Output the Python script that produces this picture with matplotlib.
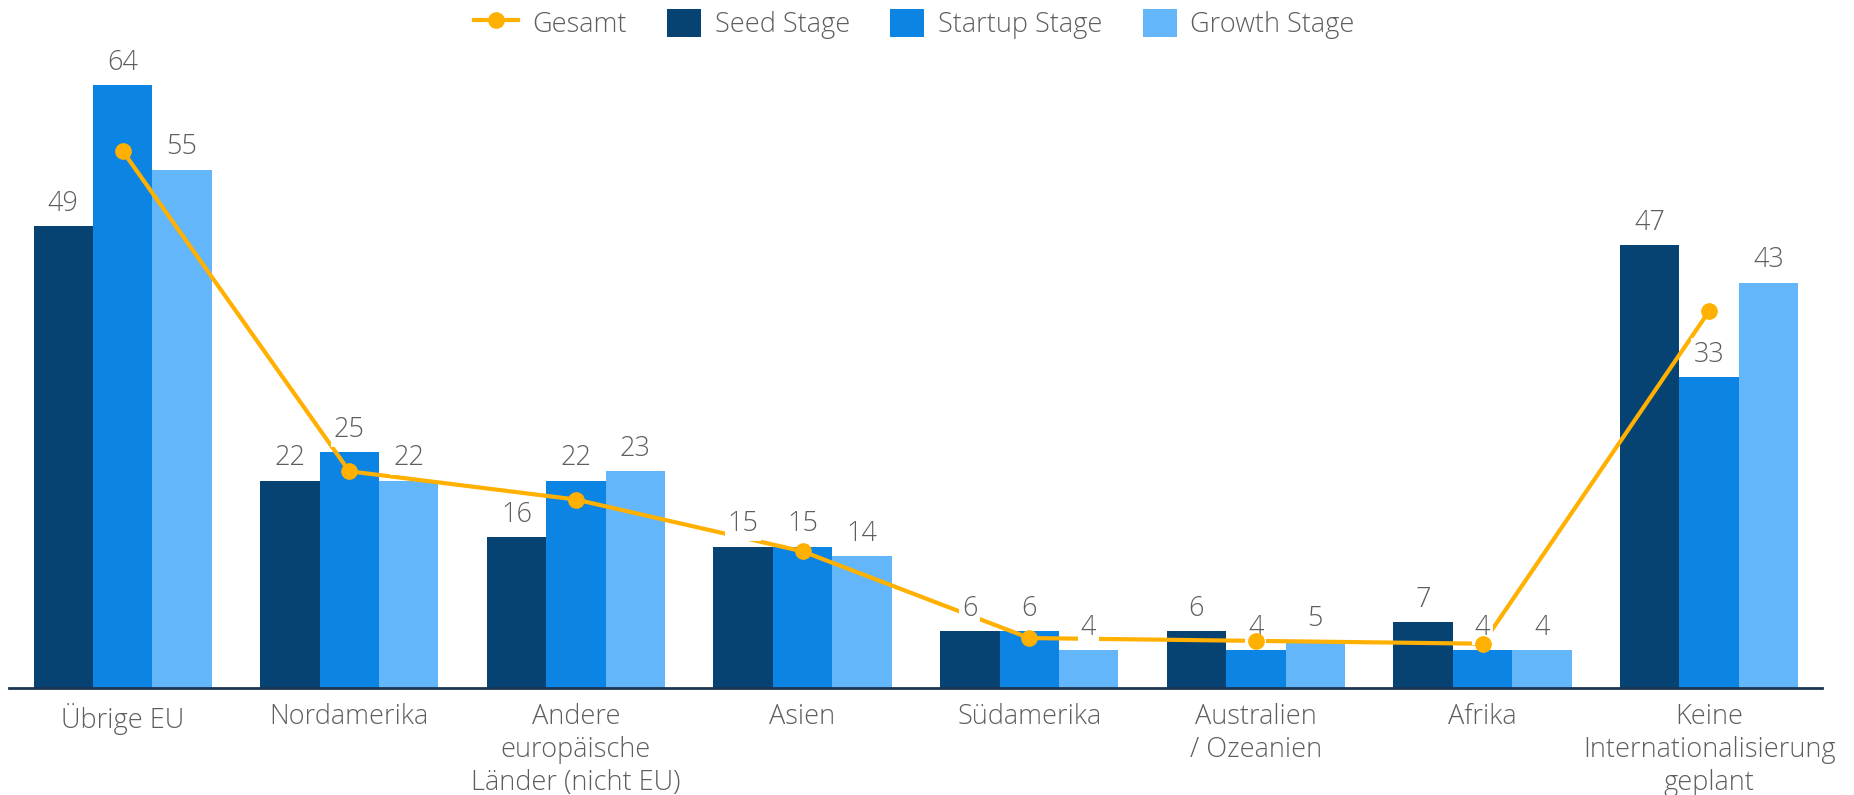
import numpy as np
import matplotlib
matplotlib.use('Agg')
import matplotlib.pyplot as plt
from matplotlib.lines import Line2D
from matplotlib.patches import Patch
from matplotlib.legend_handler import HandlerLine2D

# ─── Daten ────────────────────────────────────────────────────────────────────
REGIONEN = ["Übrige EU", "Nordamerika", "Andere\neuropäische\nLänder (nicht EU)",
            "Asien", "Südamerika", "Australien\n/ Ozeanien", "Afrika",
            "Keine\nInternationalisierung\ngeplant"]
SEED    = [49, 22, 16, 15, 6, 6, 7, 47]
STARTUP = [64, 25, 22, 15, 6, 4, 4, 33]
GROWTH  = [55, 22, 23, 14, 4, 5, 4, 43]
GESAMT  = [57, 23, 20, 14.5, 5.3, 5.0, 4.7, 40]

SERIEN = [("Seed Stage", SEED, "#064272"),
          ("Startup Stage", STARTUP, "#0b84e3"),
          ("Growth Stage", GROWTH, "#63b6f9")]
FARBE_LINIE = "#ffb000"
GRAU = "#5e5e5e"


class LangeLinie(HandlerLine2D):
    # Linien-Symbol in der Legende etwas nach links verlängern
    def create_artists(self, legend, orig, xd, yd, w, h, fs, trans):
        return super().create_artists(legend, orig, xd + 0.3 * w, yd, w * 1.3,
                                      h, fs, trans)


plt.rcParams.update({
    "font.family": ["Open Sans", "DejaVu Sans"],
    "font.weight": "light",
})

fig = plt.figure(figsize=(18.54, 7.95), dpi=100)
ax = fig.add_axes([0.005, 0.1346, 0.978, 0.806])

x = np.arange(len(REGIONEN))
breite = 0.262

for i, (name, werte, farbe) in enumerate(SERIEN):
    pos = x + (i - 1) * breite
    ax.bar(pos, werte, width=breite, color=farbe, edgecolor="none", zorder=2)
    for xp, v in zip(pos, werte):
        ax.annotate(str(v), (xp, v), xytext=(0, 6), textcoords="offset points",
                    ha="center", va="bottom", fontsize=19.5, color=GRAU,
                    zorder=5,
                    bbox=dict(boxstyle="square,pad=0.1", fc="white", ec="none"))

# Linie unter den Beschriftungen, Punkte darüber
ax.plot(x, GESAMT, color=FARBE_LINIE, linewidth=3, zorder=4)
ax.plot(x, GESAMT, color=FARBE_LINIE, linestyle="none", marker="o",
        markersize=11, zorder=6)

# ─── Achsen ───────────────────────────────────────────────────────────────────
ax.set_xlim(-0.5, 7.5)
ax.set_ylim(0, 68)
for s in ["top", "right", "left"]:
    ax.spines[s].set_visible(False)
ax.spines["bottom"].set_color("#1c3553")
ax.spines["bottom"].set_linewidth(2)
ax.set_yticks([])
ax.set_xticks(x)
ax.set_xticklabels(REGIONEN, fontsize=19.5, color=GRAU, linespacing=1.22)
ax.tick_params(axis="x", length=0, pad=11)

# ─── Legende ──────────────────────────────────────────────────────────────────
linie = Line2D([0], [0], color=FARBE_LINIE, lw=3, marker="o", markersize=11)
handles = [linie] + [Patch(facecolor=f, edgecolor="none") for _, _, f in SERIEN]
labels = ["Gesamt"] + [n for n, _, _ in SERIEN]
fig.legend(handles, labels, loc="center", bbox_to_anchor=(0.496, 0.97), ncol=4,
           frameon=False, fontsize=19.5, handlelength=1.25, handleheight=1.25,
           columnspacing=1.5, handletextpad=0.5, labelcolor=GRAU,
           handler_map={linie: LangeLinie()})

fig.savefig("out.png", dpi=100, facecolor="white")
